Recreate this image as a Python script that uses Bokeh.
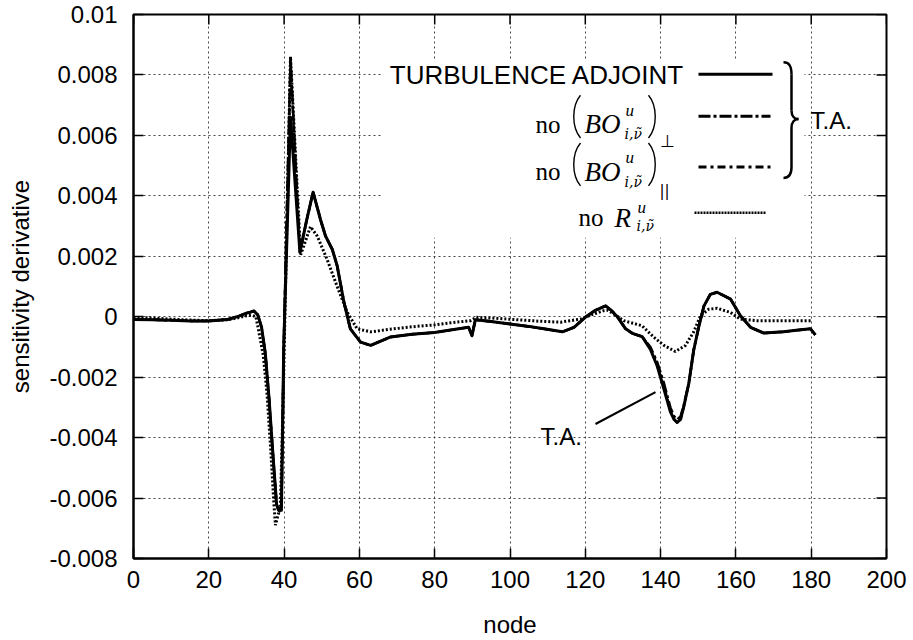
from bokeh.plotting import figure
from bokeh.models import Range1d, FixedTicker
from bokeh.core.properties import value
from bokeh.embed import file_html
from bokeh.resources import INLINE

# ---------------- data ----------------
node_ta = [0, 5, 10, 15, 20, 25, 28, 30, 31, 32, 33, 34, 35, 36, 37, 38, 38.5, 39.3, 39.9, 41.7,
           44.2, 46, 47.7, 49.7, 51, 52.8, 54.1, 55.9, 57.6, 60.3, 63, 68.3, 74, 80, 84.2, 89, 89.9,
           90.8, 95, 100, 105, 109, 113.9, 117, 120, 122.5, 125.4, 127, 128.5, 130.7, 132.5, 135.1,
           137.3, 139.1, 140.9, 142.6, 143.6, 144.4, 145.3, 146.2, 147.5, 148.8, 150.2, 151.5,
           153.2, 155, 158.6, 161.2, 163.9, 167.4, 172.7, 176, 179.8, 181.1]
sens_ta = [-0.00009, -0.0001, -0.00012, -0.00014, -0.00014, -0.00009, 0.00002, 0.00012, 0.00015,
           0.00019, 0.00006, -0.00034, -0.0012, -0.0027, -0.0045, -0.0062, -0.0064, -0.0063,
           -0.0010, 0.0066, 0.00213, 0.0032, 0.00412, 0.0032, 0.00267, 0.00223, 0.00168, 0.00048,
           -0.0004, -0.00084, -0.00095, -0.00067, -0.00058, -0.00052, -0.00044, -0.00035, -0.00063,
           -0.0001, -0.00016, -0.00024, -0.00032, -0.0004, -0.0005, -0.00035, -0.00002, 0.0002,
           0.00036, 0.0002, 0.0, -0.0004, -0.00055, -0.00066, -0.00108, -0.00163, -0.0024, -0.00315,
           -0.0034, -0.0035, -0.0034, -0.00295, -0.0022, -0.0011, -0.0003, 0.00035, 0.00074,
           0.00081, 0.00058, 0.00003, -0.00035, -0.00054, -0.0005, -0.00045, -0.0004, -0.0006]

node_bo_perp = node_ta
sens_bo_perp = [-0.00009, -0.0001, -0.00012, -0.00014, -0.00014, -0.00009, 0.00002, 0.00012, 0.00015,
                0.00019, 0.00006, -0.00034, -0.0012, -0.0027, -0.0045, -0.0062, -0.0064, -0.0065,
                -0.0010, 0.0086, 0.00213, 0.0032, 0.00412, 0.0032, 0.00267, 0.00223, 0.00168, 0.00048,
                -0.0004, -0.00084, -0.00095, -0.00067, -0.00058, -0.00052, -0.00044, -0.00035, -0.00063,
                -0.0001, -0.00016, -0.00024, -0.00032, -0.0004, -0.0005, -0.00035, -0.00002, 0.0002,
                0.00036, 0.0002, 0.0, -0.0004, -0.00055, -0.00066, -0.00100, -0.00150, -0.0022, -0.0030,
                -0.0033, -0.0034, -0.0033, -0.0029, -0.0022, -0.0011, -0.0003, 0.00035, 0.00074,
                0.00081, 0.00058, 0.00003, -0.00035, -0.00054, -0.0005, -0.00045, -0.0004, -0.0006]

node_bo_par = node_ta
sens_bo_par = [-0.00009, -0.0001, -0.00012, -0.00014, -0.00014, -0.00009, 0.00002, 0.00012, 0.00015,
               0.00019, 0.00006, -0.00034, -0.0012, -0.0027, -0.0045, -0.0062, -0.0064, -0.0064,
               -0.0010, 0.0084, 0.00213, 0.0032, 0.00412, 0.0032, 0.00267, 0.00223, 0.00168, 0.00048,
               -0.0004, -0.00084, -0.00095, -0.00067, -0.00058, -0.00052, -0.00044, -0.00035, -0.00063,
               -0.0001, -0.00016, -0.00024, -0.00032, -0.0004, -0.0005, -0.00035, -0.00002, 0.0002,
               0.00036, 0.0002, 0.0, -0.0004, -0.00055, -0.00066, -0.00104, -0.00156, -0.0023, -0.0031,
               -0.0034, -0.0035, -0.0034, -0.00295, -0.0022, -0.0011, -0.0003, 0.00035, 0.00074,
               0.00081, 0.00058, 0.00003, -0.00035, -0.00054, -0.0005, -0.00045, -0.0004, -0.0006]

node_no_r = [0, 5, 10, 15, 20, 25, 28, 30, 31.5, 32.5, 33.3, 34.5, 35.5, 36.5, 37.3, 37.7, 38.3, 39,
             39.7, 40.2, 41.7, 44.4, 47, 48.8, 51.4, 54.1, 56.8, 59.4, 63, 69.1, 75, 80, 84.2, 89.5,
             91, 96, 101.9, 108, 113.4, 118.7, 122, 124.9, 126, 127.6, 130.2, 135.1, 138.2, 140.9,
             143.9, 146.6, 148.8, 150.6, 152.8, 155, 158.6, 161.2, 165.6, 172, 180.2]
sens_no_r = [-0.00002, -0.00004, -0.00008, -0.00011, -0.00013, -0.0001, -0.00003, 0.00003, 0.00005,
             0.0, -0.0005, -0.0013, -0.0026, -0.0045, -0.0062, -0.0069, -0.0066, -0.0063, -0.003,
             0.0, 0.0086, 0.00205, 0.00298, 0.00267, 0.0019, 0.001, 0.00014, -0.0004, -0.0005,
             -0.0004, -0.00032, -0.00027, -0.0002, -0.00013, -0.00002, -0.00005, -0.0001, -0.00015,
             -0.00018, -0.00008, 0.00008, 0.0002, 0.00021, 0.00009, -0.00013, -0.0003, -0.00068,
             -0.00095, -0.00115, -0.00095, -0.0005, 0.00003, 0.00025, 0.00028, 0.00014, -0.00008,
             -0.00013, -0.00013, -0.00013]

x_ticks = [0, 20, 40, 60, 80, 100, 120, 140, 160, 180, 200]
x_tick_labels = ["0", "20", "40", "60", "80", "100", "120", "140", "160", "180", "200"]
y_ticks = [-0.008, -0.006, -0.004, -0.002, 0, 0.002, 0.004, 0.006, 0.008, 0.01]
y_tick_labels = ["-0.008", "-0.006", "-0.004", "-0.002", "0", "0.002", "0.004", "0.006", "0.008", "0.01"]

x_title = "node"
y_title = "sensitivity derivative"
legend_main = "TURBULENCE ADJOINT"
group_label = "T.A."

# ---------------- layout ----------------
X0, X1 = 0, 200
Y0, Y1 = -0.008, 0.01
W, H = 913, 640
BL, BR, BT, BB = 133, 27, 14, 80
FW, FH = W - BL - BR, H - BT - BB
TICK = 10


def dx(px):
    return X0 + (px - BL) / FW * (X1 - X0)


def dy(py):
    return Y1 - (py - BT) / FH * (Y1 - Y0)


SANS = "Liberation Sans"
SERIF = "Liberation Serif"

p = figure(width=W, height=H, x_range=Range1d(X0, X1), y_range=Range1d(Y0, Y1),
           output_backend="svg", toolbar_location=None,
           min_border_left=BL, min_border_right=BR, min_border_top=BT, min_border_bottom=BB,
           x_axis_label=x_title, y_axis_label=y_title)
p.background_fill_color = "white"
p.border_fill_color = "white"
p.outline_line_color = "black"
p.outline_line_width = 2

for ax, ticks, labels in ((p.xaxis[0], x_ticks, x_tick_labels), (p.yaxis[0], y_ticks, y_tick_labels)):
    ax.ticker = FixedTicker(ticks=ticks)
    ax.major_label_overrides = dict(zip(ticks, labels))
    ax.major_tick_in = TICK
    ax.major_tick_out = 0
    ax.minor_tick_in = 0
    ax.minor_tick_out = 0
    ax.major_tick_line_width = 1.5
    ax.axis_line_width = 2
    ax.major_label_text_font = SANS
    ax.major_label_text_font_size = "24px"
    ax.major_label_text_color = "black"
    ax.axis_label_text_font = SANS
    ax.axis_label_text_font_size = "24px"
    ax.axis_label_text_font_style = "normal"
    ax.axis_label_text_color = "black"
p.xaxis[0].major_label_standoff = 12
p.xaxis[0].axis_label_standoff = 20
p.yaxis[0].major_label_standoff = 16
p.yaxis[0].axis_label_standoff = 12

p.xgrid.ticker = FixedTicker(ticks=x_ticks)
p.ygrid.ticker = FixedTicker(ticks=y_ticks)
for g in (p.xgrid[0], p.ygrid[0]):
    g.grid_line_color = "#333333"
    g.grid_line_dash = "2 3"
    g.grid_line_width = 1
    g.grid_line_alpha = 0.9

# mirrored inward ticks on the top and right edges
p.segment(x0=x_ticks, x1=x_ticks, y0=[Y1] * len(x_ticks), y1=[dy(BT + TICK)] * len(x_ticks),
          line_color="black", line_width=1.5)
p.segment(x0=[X1] * len(y_ticks), x1=[dx(BL + FW - TICK)] * len(y_ticks), y0=y_ticks, y1=y_ticks,
          line_color="black", line_width=1.5)

# white area behind the key (hides the grid there)
p.quad(left=[dx(382)], right=[dx(804)], top=[dy(60)], bottom=[dy(238)],
       fill_color="white", line_color=None)

# ---------------- curves ----------------
p.line(node_no_r, sens_no_r, line_color="black", line_width=3, line_dash="2 2")
p.line(node_bo_perp, sens_bo_perp, line_color="black", line_width=2.5, line_dash="12 3 3 3")
p.line(node_bo_par, sens_bo_par, line_color="black", line_width=2.5, line_dash="8 4 3 4")
p.line(node_ta, sens_ta, line_color="black", line_width=3, line_join="round")


# ---------------- key ----------------
def txt(px, py, s, font=SANS, size=24, style="normal", align="left", baseline="alphabetic"):
    p.text(x=[dx(px)], y=[dy(py)], text=[s], text_font=value(font),
           text_font_size=value(f"{size}px"), text_font_style=style,
           text_align=align, text_baseline=baseline, text_color="black")


def paren(px, top, bottom, bulge):
    p.bezier(x0=[dx(px)], y0=[dy(top)], x1=[dx(px)], y1=[dy(bottom)],
             cx0=[dx(px + bulge)], cy0=[dy(top + (bottom - top) * 0.25)],
             cx1=[dx(px + bulge)], cy1=[dy(top + (bottom - top) * 0.75)],
             line_color="black", line_width=1.4)


txt(684, 75, legend_main, size=26, align="right", baseline="middle")
p.line([dx(698), dx(772)], [dy(74), dy(74)], line_color="black", line_width=3)

row_base = [124, 172]
row_suffix = ["\u22a5", "||"]
row_suffix_base = [141, 191]
row_suffix_font = [SERIF, "DejaVu Sans"]
row_suffix_size = [17, 15]
row_line_y = [116, 167]
dashes = ["12 3 3 3", "8 4 3 4"]
for i, base in enumerate(row_base):
    txt(535, base, "no", font=SERIF, size=25)
    paren(580, base - 29, base + 14, -9)
    txt(584, base, "BO", font=SERIF, size=27, style="italic")
    txt(625, base - 14, "u", font=SERIF, size=17, style="italic")
    txt(624, base + 10, "i,\u03bd\u0303", font="DejaVu Serif", size=14, style="italic")
    paren(648, base - 29, base + 14, 9)
    txt(659, row_suffix_base[i], row_suffix[i], font=row_suffix_font[i], size=row_suffix_size[i])
    p.line([dx(698), dx(770)], [dy(row_line_y[i]), dy(row_line_y[i])], line_color="black",
           line_width=3, line_dash=dashes[i])

txt(578, 218, "no", font=SERIF, size=25)
txt(614, 218, "R", font=SERIF, size=27, style="italic")
txt(637, 208, "u", font=SERIF, size=17, style="italic")
txt(636, 226, "i,\u03bd\u0303", font="DejaVu Serif", size=14, style="italic")
p.line([dx(694), dx(765)], [dy(213), dy(213)], line_color="black", line_width=2.5, line_dash="2 1")

# brace
p.bezier(x0=[dx(783), dx(791), dx(798), dx(791)],
         y0=[dy(62), dy(110), dy(119), dy(167)],
         x1=[dx(791), dx(798), dx(791), dx(783)],
         y1=[dy(74), dy(119), dy(128), dy(178)],
         cx0=[dx(789), dx(791), dx(794), dx(791)],
         cy0=[dy(62), dy(116), dy(119), dy(174)],
         cx1=[dx(791), dx(794), dx(791), dx(789)],
         cy1=[dy(66), dy(119), dy(122), dy(178)],
         line_color="black", line_width=2.5)
p.segment(x0=[dx(791), dx(791)], y0=[dy(74), dy(128)], x1=[dx(791), dx(791)], y1=[dy(110), dy(167)],
          line_color="black", line_width=2.5)
txt(810, 120, group_label, size=24, baseline="middle")

# T.A. pointer
txt(540, 438, group_label, size=24, baseline="middle")
p.line([dx(595), dx(655)], [dy(425), dy(393)], line_color="black", line_width=2)

open("out.html", "w").write(file_html(p, INLINE))
